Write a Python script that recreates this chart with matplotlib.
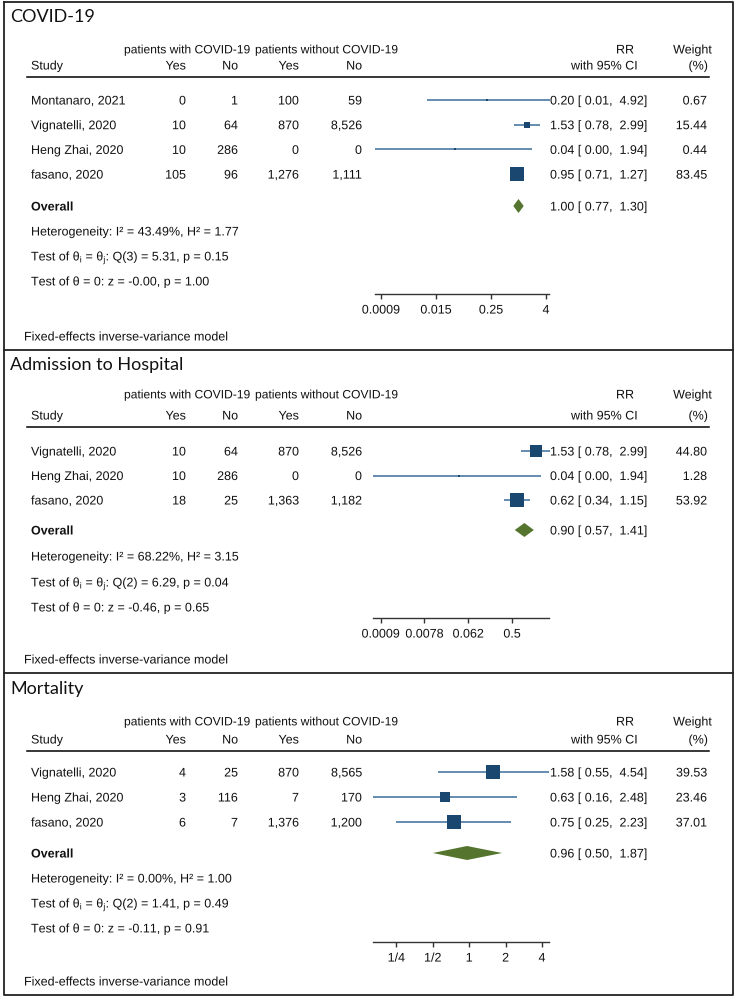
import matplotlib
matplotlib.use("Agg")
import matplotlib.pyplot as plt
import matplotlib.patheffects as pe
from matplotlib import font_manager
from matplotlib.patches import Polygon
import numpy as np

W, H = 738, 997

# ---- data: COVID-19 ----
covid_study = ["Montanaro, 2021", "Vignatelli, 2020", "Heng Zhai, 2020", "fasano, 2020"]
covid_yes_with = [0, 10, 10, 105]
covid_no_with = [1, 64, 286, 96]
covid_yes_without = [100, 870, 0, 1276]
covid_no_without = [59, 8526, 0, 1111]
covid_rr = [0.20, 1.53, 0.04, 0.95]
covid_lo = [0.01, 0.78, 0.00, 0.71]
covid_hi = [4.92, 2.99, 1.94, 1.27]
covid_weight = [0.67, 15.44, 0.44, 83.45]
covid_overall = [1.00, 0.77, 1.30]
covid_het = [43.49, 1.77]
covid_q = [3, 5.31, 0.15]
covid_z = [-0.00, 1.00]
covid_ticks = [2**-10, 2**-6, 2**-2, 2**2]
covid_ticklabels = ["0.0009", "0.015", "0.25", "4"]

# ---- data: Admission to Hospital ----
hosp_study = ["Vignatelli, 2020", "Heng Zhai, 2020", "fasano, 2020"]
hosp_yes_with = [10, 10, 18]
hosp_no_with = [64, 286, 25]
hosp_yes_without = [870, 0, 1363]
hosp_no_without = [8526, 0, 1182]
hosp_rr = [1.53, 0.04, 0.62]
hosp_lo = [0.78, 0.00, 0.34]
hosp_hi = [2.99, 1.94, 1.15]
hosp_weight = [44.80, 1.28, 53.92]
hosp_overall = [0.90, 0.57, 1.41]
hosp_het = [68.22, 3.15]
hosp_q = [2, 6.29, 0.04]
hosp_z = [-0.46, 0.65]
hosp_ticks = [2**-10, 2**-7, 2**-4, 2**-1]
hosp_ticklabels = ["0.0009", "0.0078", "0.062", "0.5"]

# ---- data: Mortality ----
mort_study = ["Vignatelli, 2020", "Heng Zhai, 2020", "fasano, 2020"]
mort_yes_with = [4, 3, 6]
mort_no_with = [25, 116, 7]
mort_yes_without = [870, 7, 1376]
mort_no_without = [8565, 170, 1200]
mort_rr = [1.58, 0.63, 0.75]
mort_lo = [0.55, 0.16, 0.25]
mort_hi = [4.54, 2.48, 2.23]
mort_weight = [39.53, 23.46, 37.01]
mort_overall = [0.96, 0.50, 1.87]
mort_het = [0.00, 1.00]
mort_q = [2, 1.41, 0.49]
mort_z = [-0.11, 0.91]
mort_ticks = [0.25, 0.5, 1, 2, 4]
mort_ticklabels = ["1/4", "1/2", "1", "2", "4"]

panels = [
    dict(title="COVID-19", study=covid_study, cols=[covid_yes_with, covid_no_with, covid_yes_without, covid_no_without],
         rr=covid_rr, lo=covid_lo, hi=covid_hi, w=covid_weight, overall=covid_overall,
         het=covid_het, q=covid_q, z=covid_z, ticks=covid_ticks, ticklabels=covid_ticklabels),
    dict(title="Admission to Hospital", study=hosp_study, cols=[hosp_yes_with, hosp_no_with, hosp_yes_without, hosp_no_without],
         rr=hosp_rr, lo=hosp_lo, hi=hosp_hi, w=hosp_weight, overall=hosp_overall,
         het=hosp_het, q=hosp_q, z=hosp_z, ticks=hosp_ticks, ticklabels=hosp_ticklabels),
    dict(title="Mortality", study=mort_study, cols=[mort_yes_with, mort_no_with, mort_yes_without, mort_no_without],
         rr=mort_rr, lo=mort_lo, hi=mort_hi, w=mort_weight, overall=mort_overall,
         het=mort_het, q=mort_q, z=mort_z, ticks=mort_ticks, ticklabels=mort_ticklabels),
]

# ---- layout (pixels, y = centre of the text line) ----
layout = [
    dict(top=2, title_y=15, h1=49, h2=65, rule=77, row0=100, step=24.7, overall=206,
         stats=[231, 256, 281], axis=294, fixed=336, xl=375, xr=549, a=-10.436, b=2.218),
    dict(top=350, title_y=363, h1=394, h2=415, rule=427, row0=451, step=24.5, overall=530,
         stats=[556, 582, 607], axis=618, fixed=659, xl=373, xr=549, a=-10.53, b=1.536),
    dict(top=673, title_y=687, h1=721, h2=739, rule=751, row0=772, step=25, overall=853,
         stats=[878, 903, 928], axis=942, fixed=981, xl=373, xr=549, a=-2.643, b=2.192),
]

names = {f.name for f in font_manager.fontManager.ttflist}
BODY = "Liberation Sans Narrow" if "Liberation Sans Narrow" in names else "Liberation Sans"
FS = 10.3 if BODY == "Liberation Sans Narrow" else 9.0
TITLE_FONT = "Lato"
TITLE_FS = 13

plt.rcParams["font.family"] = [BODY, "DejaVu Sans"]
plt.rcParams["mathtext.fontset"] = "custom"
plt.rcParams["mathtext.rm"] = BODY
plt.rcParams["mathtext.it"] = BODY

NAVY = "#1a476f"
LINE = "#4a78a3"
GREEN = "#55752f"
INK = "#111111"
# draw text as paths: avoids the uneven glyph spacing of hinted narrow text
ASPATH = [pe.Normal()]

fig = plt.figure(figsize=(W / 100, H / 100), dpi=100)
cv = fig.add_axes([0, 0, 1, 1])
cv.set_xlim(0, W)
cv.set_ylim(H, 0)
cv.axis("off")


def txt(x, y, s, ha="left", fontsize=FS, **kw):
    # put the baseline so that the capital letters are centred on y
    off = 0.36 * fontsize * 100 / 72
    cv.text(x, y + off, s, ha=ha, va="baseline", fontsize=fontsize, color=INK,
            path_effects=kw.pop("path_effects", ASPATH), **kw)


# outer frame + panel dividers
LEFT, RIGHT, BOTTOM = 4, 733, 995
cv.plot([LEFT, RIGHT, RIGHT, LEFT, LEFT], [2, 2, BOTTOM, BOTTOM, 2], color="#222222", lw=1.3)
for L in layout[1:]:
    cv.plot([LEFT, RIGHT], [L["top"], L["top"]], color="#222222", lw=1.3)

col_right = [186, 238, 299, 362]
col_names = ["Yes", "No", "Yes", "No"]

for P, L in zip(panels, layout):
    txt(10, L["title_y"], P["title"], fontsize=TITLE_FS, family=TITLE_FONT, path_effects=[])

    # headers
    txt(124, L["h1"], "patients with COVID-19", fontsize=FS - 0.3)
    txt(255, L["h1"], "patients without COVID-19", fontsize=FS - 0.3)
    txt(625, L["h1"], "RR", ha="center")
    txt(712, L["h1"], "Weight", ha="right")
    txt(31, L["h2"], "Study")
    for xr, nm in zip(col_right, col_names):
        txt(xr, L["h2"], nm, ha="right")
    txt(638, L["h2"], "with 95% CI", ha="right")
    txt(708, L["h2"], "(%)", ha="right")
    cv.plot([27, 709], [L["rule"], L["rule"]], color="black", lw=1.1)

    n = len(P["study"])
    ys = [L["row0"] + i * L["step"] for i in range(n)]
    for i, y in enumerate(ys):
        txt(31, y, P["study"][i])
        for c, xr in zip(P["cols"], col_right):
            txt(xr, y, f"{c[i]:,}", ha="right")
        txt(550, y, f"{P['rr'][i]:.2f} [{P['lo'][i]:5.2f}, {P['hi'][i]:5.2f}]")
        txt(707, y, f"{P['w'][i]:.2f}", ha="right")

    o = P["overall"]
    txt(31, L["overall"], "Overall", fontweight="bold")
    txt(550, L["overall"], f"{o[0]:.2f} [{o[1]:5.2f}, {o[2]:5.2f}]")
    txt(31, L["stats"][0], f"Heterogeneity: I\u00b2 = {P['het'][0]:.2f}%, H\u00b2 = {P['het'][1]:.2f}")
    txt(31, L["stats"][1], r"Test of $\mathrm{\theta_i}$ = $\mathrm{\theta_j}$: "
        + f"Q({P['q'][0]}) = {P['q'][1]:.2f}, p = {P['q'][2]:.2f}")
    txt(31, L["stats"][2], r"Test of $\mathrm{\theta}$ = 0: " + f"z = {P['z'][0]:.2f}, p = {P['z'][1]:.2f}")
    txt(24, L["fixed"], "Fixed-effects inverse-variance model")

    # forest axes: y in canvas pixels, x on log2 scale
    ax = fig.add_axes([L["xl"] / W, 1 - L["axis"] / H, (L["xr"] - L["xl"]) / W, (L["axis"] - L["top"]) / H])
    ax.set_xscale("log", base=2)
    x0, x1 = 2.0 ** L["a"], 2.0 ** L["b"]
    ax.set_xlim(x0, x1)
    ax.set_ylim(L["axis"], L["top"])
    ax.patch.set_alpha(0)
    for s in ["top", "left", "right"]:
        ax.spines[s].set_visible(False)
    ax.spines["bottom"].set_linewidth(1.0)
    ax.spines["bottom"].set_color("#333333")
    ax.set_yticks([])
    ax.set_xticks(P["ticks"])
    ax.set_xticklabels(P["ticklabels"])
    ax.minorticks_off()
    ax.tick_params(axis="x", direction="out", length=3.6, width=1.0, pad=4, labelsize=FS,
                   color="#333333", labelcolor=INK)
    for lab in ax.get_xticklabels():
        lab.set_path_effects(ASPATH)

    wmax = max(P["w"])
    for i, y in enumerate(ys):
        lo = max(P["lo"][i], x0)
        ax.plot([lo, P["hi"][i]], [y, y], color=LINE, lw=1.2, clip_on=False, solid_capstyle="butt")
        side = max(14 * np.sqrt(P["w"][i] / wmax), 2.5)
        ax.plot([P["rr"][i]], [y], marker="s", ms=side * 0.72, color=NAVY, mec=NAVY, mew=0, clip_on=False)
    yo = L["overall"]
    ax.add_patch(Polygon([(o[1], yo), (o[0], yo - 7), (o[2], yo), (o[0], yo + 7)],
                         closed=True, color=GREEN, lw=0, clip_on=False))

fig.savefig("out.png", dpi=100)
